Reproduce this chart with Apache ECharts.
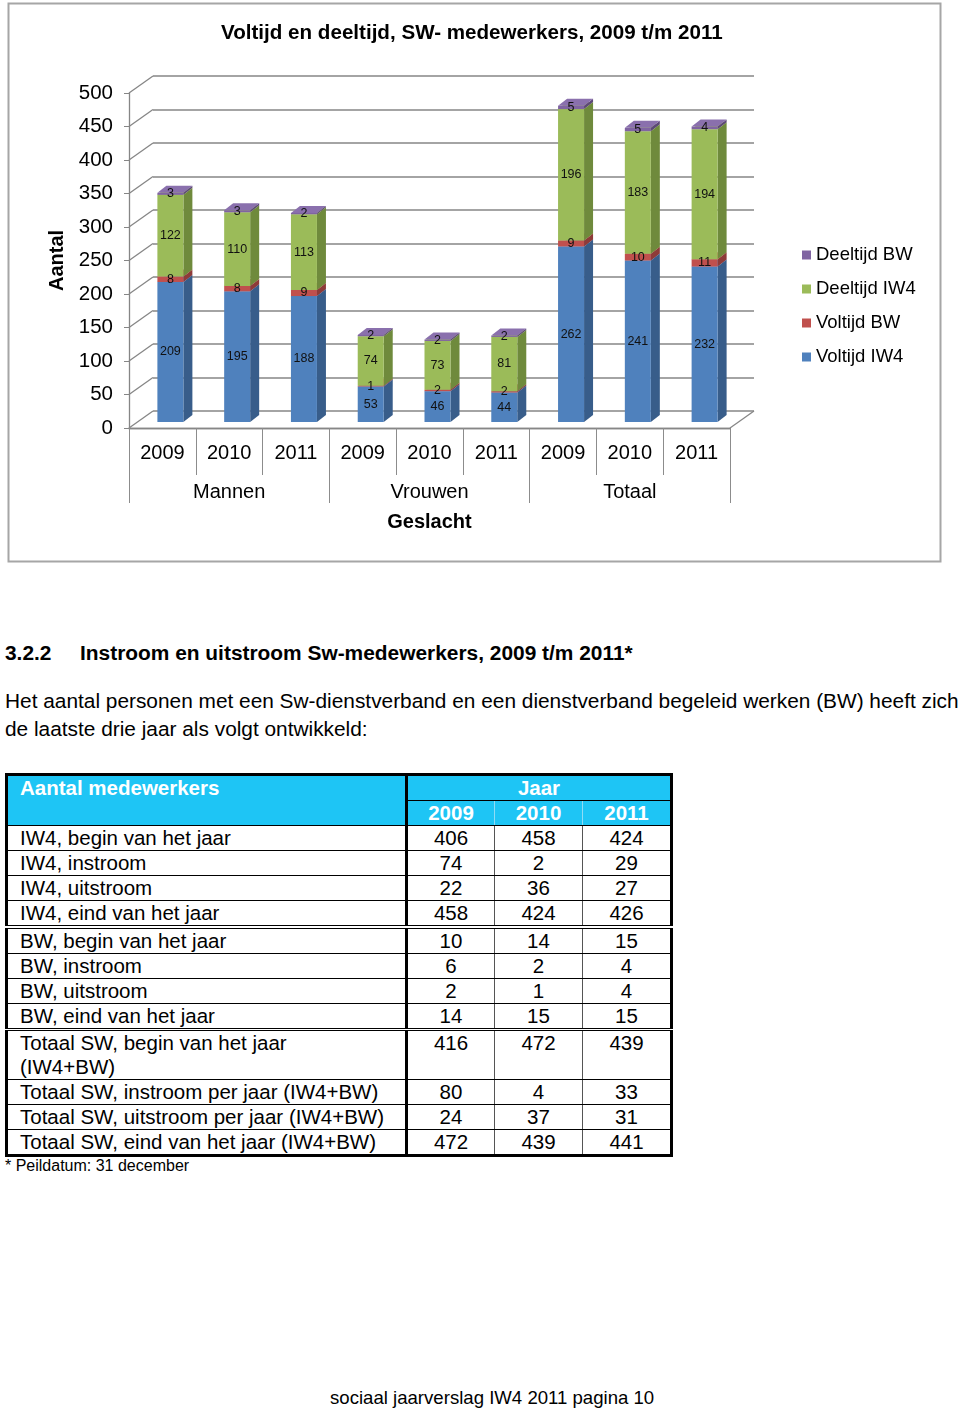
<!DOCTYPE html>
<html>
<head>
<meta charset="utf-8">
<script src="https://cdn.jsdelivr.net/npm/echarts@6/dist/echarts.min.js"></script>
<style>
  html, body { margin:0; padding:0; background:#fff; }
  body { width:960px; height:1411px; position:relative; overflow:hidden; font-family:"Liberation Sans", Arial, sans-serif; color:#000; }
  #chart { position:absolute; left:0; top:0; width:960px; height:570px; }
  .abs { position:absolute; white-space:nowrap; }
  #heading { left:5px; top:641px; font-size:20.9px; font-weight:bold; }
  #heading .num { display:inline-block; width:75px; }
  #para { left:5px; top:687px; font-size:20.85px; line-height:28px; }
  table { position:absolute; left:5px; top:773px; border-collapse:collapse; font-size:20.5px; table-layout:fixed; }
  td { padding:0; height:24px; line-height:22px; border:1px solid #000; }
  td.lab { padding-left:12px; }
  td.val { text-align:center; border-left:1px solid #555; border-right:1px solid #555; }
  td.v1 { border-left:3px solid #000; }
  td.v3 { border-right:3px solid #000; }
  td.lab { border-left:3px solid #000; }
  tr.head td { background:#1ec5f5; color:#fff; font-weight:bold; border-color:#000; }
  tr.head td.yr { border-left:1px solid #8fdcf6; border-right:1px solid #8fdcf6; border-top:1px solid #15a9d6; }
  tr.head td.yr.v1 { border-left:3px solid #000; }
  tr.head td.yr.v3 { border-right:3px solid #000; }
  tr.sec td { border-top:4px double #000; }
  tr.sec2 td { border-top:3px double #000; }
  tr.last td { border-bottom:3px solid #000; }
  tr.first td { border-top:3px solid #000; }
  #foot { left:5px; top:1157px; font-size:16px; }
  #footer { left:330px; top:1387px; font-size:18.6px; }
</style>
</head>
<body>
<div id="chart"></div>
<div class="abs" id="heading"><span class="num">3.2.2</span>Instroom en uitstroom Sw-medewerkers, 2009 t/m 2011*</div>
<div class="abs" id="para">Het aantal personen met een Sw-dienstverband en een dienstverband begeleid werken (BW) heeft zich<br>de laatste drie jaar als volgt ontwikkeld:</div>
<table id="tbl"></table>
<div class="abs" id="foot">* Peildatum: 31 december</div>
<div class="abs" id="footer">sociaal jaarverslag IW4 2011 pagina 10</div>
<script>
// ---------- chart data ----------
const years = ['2009','2010','2011','2009','2010','2011','2009','2010','2011'];
const groups = ['Mannen','Vrouwen','Totaal'];
const voltijdIW4  = [209,195,188,53,46,44,262,241,232];
const voltijdBW   = [8,8,9,1,2,2,9,10,11];
const deeltijdIW4 = [122,110,113,74,73,81,196,183,194];
const deeltijdBW  = [3,3,2,2,2,2,5,5,4];
const yTicks = [0,50,100,150,200,250,300,350,400,450,500];

// ---------- table data ----------
const tableYears = ['2009','2010','2011'];
const tableLabels = [
  'IW4, begin van het jaar','IW4, instroom','IW4, uitstroom','IW4, eind van het jaar',
  'BW, begin van het jaar','BW, instroom','BW, uitstroom','BW, eind van het jaar',
  'Totaal SW, begin van het jaar<br>(IW4+BW)','Totaal SW, instroom per jaar (IW4+BW)',
  'Totaal SW, uitstroom per jaar (IW4+BW)','Totaal SW, eind van het jaar (IW4+BW)'
];
const tableValues = [
  [406,458,424],[74,2,29],[22,36,27],[458,424,426],
  [10,14,15],[6,2,4],[2,1,4],[14,15,15],
  [416,472,439],[80,4,33],[24,37,31],[472,439,441]
];

// build table
(function(){
  let h = '<colgroup><col style="width:400px"><col style="width:88px"><col style="width:88px"><col style="width:89px"></colgroup>';
  h += '<tr class="head first"><td class="lab" rowspan="2" style="vertical-align:top;padding-top:1px">Aantal medewerkers</td>' +
       '<td colspan="3" class="val v1 v3" style="border-left:3px solid #000;border-right:3px solid #000">Jaar</td></tr>';
  h += '<tr class="head">' + tableYears.map((y,i)=>'<td class="val yr v'+(i+1)+'">'+y+'</td>').join('') + '</tr>';
  tableLabels.forEach((lab, r) => {
    let cls = [];
    if (r === 4) cls.push('sec');
    if (r === 8) cls.push('sec2');
    if (r === tableLabels.length-1) cls.push('last');
    const tall = r === 8;
    h += '<tr class="'+cls.join(' ')+'"><td class="lab"'+(tall?' style="height:47px;line-height:24px;vertical-align:top;padding-top:0px"':'')+'>'+lab+'</td>' +
      tableValues[r].map((v,i)=>'<td class="val v'+(i+1)+'"'+(tall?' style="vertical-align:top;padding-top:0px;line-height:24px"':'')+'>'+v+'</td>').join('') + '</tr>';
  });
  document.getElementById('tbl').innerHTML = h;
})();

// ---------- chart ----------
const seriesDefs = [
  { name:'Voltijd IW4',  values: voltijdIW4,  front:'#4f81bd', side:'#385d8a', top:'#5b8ccb' },
  { name:'Voltijd BW',   values: voltijdBW,   front:'#c0504d', side:'#8e3b39', top:'#cc605d' },
  { name:'Deeltijd IW4', values: deeltijdIW4, front:'#9bbb59', side:'#6f8a3c', top:'#a6c56a' },
  { name:'Deeltijd BW',  values: deeltijdBW,  front:'#8064a2', side:'#5d4878', top:'#8a70ad' }
];
const AXIS = '#868686';
const BAR_W = 26, DX = 9, DY = 7;

let bases = years.map(()=>0);
const barSeries = seriesDefs.map((s, si) => {
  const data = s.values.map((v,i)=>[i, bases[i], v]);
  bases = bases.map((b,i)=>b + s.values[i]);
  return {
    type:'custom', name:s.name, xAxisIndex:3, yAxisIndex:2,
    itemStyle:{ color:s.front },
    data,
    encode:{ x:0, y:2 },
    renderItem(params, api){
      const i = api.value(0), b = api.value(1), v = api.value(2);
      const p0 = api.coord([i, b]), p1 = api.coord([i, b+v]);
      const x = p0[0] - BAR_W/2, yb = p0[1], yt = p1[1];
      return { type:'group', children:[
        { type:'polygon', shape:{ points:[[x+BAR_W,yt],[x+BAR_W+DX,yt-DY],[x+BAR_W+DX,yb-DY],[x+BAR_W,yb]] }, style:{ fill:s.side } },
        { type:'polygon', shape:{ points:[[x,yt],[x+DX,yt-DY],[x+BAR_W+DX,yt-DY],[x+BAR_W,yt]] }, style:{ fill:s.top } },
        { type:'rect', shape:{ x:x, y:yt, width:BAR_W, height:Math.max(yb-yt,0.5) }, style:{ fill:s.front } },
        { type:'text', z2:100, style:{ text:String(v), x:p0[0], y:(yb+yt)/2, align:'center', verticalAlign:'middle',
          fontSize:12.5, fontFamily:'Liberation Sans, Arial, sans-serif', fill:'#111' } }
      ]};
    }
  };
});

// side wall / floor diagonals
const wallSeries = {
  type:'custom', name:'wall', xAxisIndex:0, yAxisIndex:0, silent:true,
  data: yTicks.map(t=>[0,t]),
  encode:{ x:0, y:1 },
  renderItem(params, api){
    const cs = params.coordSys;
    const y = api.coord([0, api.value(1)])[1];
    const ch = [{ type:'line', shape:{ x1:cs.x, y1:y, x2:cs.x+24, y2:y-17 }, style:{ stroke:AXIS, lineWidth:1.3 } }];
    if (api.value(1) === 0) {
      ch.push({ type:'line', shape:{ x1:cs.x+cs.width, y1:y, x2:cs.x+cs.width+24, y2:y-17 }, style:{ stroke:AXIS, lineWidth:1.3 } });
    }
    return { type:'group', children: ch };
  }
};

const chart = echarts.init(document.getElementById('chart'), null, { renderer:'canvas' });
chart.setOption({
  animation:false,
  textStyle:{ fontFamily:'Liberation Sans, Arial, sans-serif' },
  title:{ text:'Voltijd en deeltijd, SW- medewerkers, 2009 t/m 2011', left:216, top:18,
    textStyle:{ fontSize:20.6, fontWeight:'bold', color:'#000', fontFamily:'Liberation Sans, Arial, sans-serif' } },
  graphic:[{ type:'rect', shape:{ x:8.5, y:3.5, width:932, height:558 }, style:{ fill:'none', stroke:'#a6a6a6', lineWidth:2 }, silent:true }],
  legend:{ orient:'vertical', left:797, top:240, itemWidth:9, itemHeight:9, itemGap:14, icon:'rect',
    data:['Deeltijd BW','Deeltijd IW4','Voltijd BW','Voltijd IW4'],
    textStyle:{ fontSize:18.5, color:'#000', lineHeight:20 } },
  grid:[
    { left:129, top:93, width:601, height:335 },
    { left:153, top:76, width:601, height:335 },
    { left:137, top:87, width:601, height:335 }
  ],
  xAxis:[
    { type:'category', gridIndex:0, data:years, position:'bottom',
      axisLine:{ show:true, lineStyle:{ color:AXIS, width:1.3 } },
      axisTick:{ show:true, interval:0, length:47, lineStyle:{ color:'#8c8c8c', width:1 } },
      axisLabel:{ interval:0, fontSize:20, color:'#000', margin:15 } },
    { type:'category', gridIndex:0, data:groups, position:'bottom',
      axisLine:{ show:true, lineStyle:{ color:AXIS, width:1.3 } },
      axisTick:{ show:true, interval:0, length:75, lineStyle:{ color:'#8c8c8c', width:1 } },
      axisLabel:{ interval:0, fontSize:20, color:'#000', margin:54 },
      name:'Geslacht', nameLocation:'middle', nameGap:84,
      nameTextStyle:{ fontSize:20, fontWeight:'bold', color:'#000' } },
    { type:'category', gridIndex:1, data:years, show:false },
    { type:'category', gridIndex:2, data:years, show:false }
  ],
  yAxis:[
    { type:'value', gridIndex:0, min:0, max:500, interval:50,
      axisLine:{ show:true, lineStyle:{ color:AXIS, width:1.3 } },
      axisTick:{ show:true, length:5, lineStyle:{ color:AXIS } },
      axisLabel:{ fontSize:20.5, color:'#000', margin:16 },
      splitLine:{ show:false },
      name:'Aantal', nameLocation:'middle', nameGap:60, nameRotate:90,
      nameTextStyle:{ fontSize:20, fontWeight:'bold', color:'#000' } },
    { type:'value', gridIndex:1, min:0, max:500, interval:50,
      axisLine:{ show:false }, axisTick:{ show:false }, axisLabel:{ show:false },
      splitLine:{ show:true, lineStyle:{ color:AXIS, width:1.6 } } },
    { type:'value', gridIndex:2, min:0, max:500, show:false, splitLine:{ show:false } }
  ],
  series:[wallSeries].concat(barSeries)
});
</script>
</body>
</html>
